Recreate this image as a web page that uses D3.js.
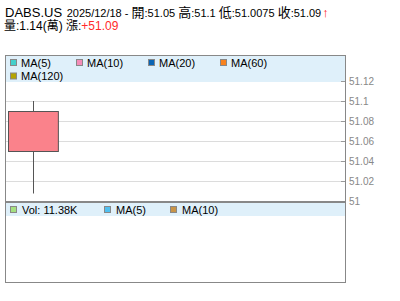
<!DOCTYPE html>
<html><head><meta charset="utf-8">
<script src="https://cdn.jsdelivr.net/npm/d3@7"></script>
<style>body{margin:0;background:#fff}svg{display:block}text{font-family:"Liberation Sans",Arial,"Noto Sans CJK TC",sans-serif}</style>
</head><body>
<script>
const symbol = "DABS.US";
const dates = ["2025/12/18"];
const opens = [51.05];
const highs = [51.1];
const lows = [51.0075];
const closes = [51.09];
const volumes = [11380];
const volumeWan = "1.14";
const change = "+51.09";
const priceTicks = [51, 51.02, 51.04, 51.06, 51.08, 51.1, 51.12];
const maLegend = ["MA(5)", "MA(10)", "MA(20)", "MA(60)", "MA(120)"];
const maColors = ["#44d0cc", "#f48cb8", "#0a64b4", "#f8821e", "#b4a400"];
const volLegend = ["Vol: 11.38K", "MA(5)", "MA(10)"];
const volColors = ["#a4e080", "#50c0f0", "#c89448"];
const slots = 6;

const W = 400, H = 301;
const L = 5, R = 345, T = 55, B = 282, mainBottom = 201;
const svg = d3.select("body").append("svg").attr("width", W).attr("height", H);

// Title
const t1 = svg.append("text").attr("x", 5).attr("y", 17).attr("font-size", 11).attr("fill", "#000");
t1.append("tspan").attr("font-size", 13).text(symbol + " ");
t1.append("tspan").attr("dx", 1).text(dates[0] + " - ");
const parts = [["開", opens[0]], ["高", highs[0]], ["低", lows[0]], ["收", closes[0]]];
parts.forEach((p, i) => {
  t1.append("tspan").attr("font-size", 13).text(p[0]);
  t1.append("tspan").text(":" + p[1] + (i < parts.length - 1 ? " " : ""));
});
t1.append("tspan").attr("dx", 1).attr("fill", "#ff1a1a").attr("font-weight", "bold").attr("font-size", 13).text("↑");
const t2 = svg.append("text").attr("x", 4).attr("y", 30).attr("font-size", 12).attr("fill", "#000");
t2.append("tspan").text("量:" + volumeWan + "(萬) 漲:");
t2.append("tspan").attr("fill", "#ff2a2a").text(change);

// scales
const y = d3.scaleLinear().domain([51, 51.12]).range([mainBottom, 81]);
const x = d3.scaleBand().domain(d3.range(slots)).range([L, R]).paddingInner(0.12).paddingOuter(0.06);

// gridlines
svg.append("g").selectAll("line").data(priceTicks.filter(d => d > 51 && d < 51.12)).join("line")
  .attr("x1", L).attr("x2", R).attr("y1", d => Math.round(y(d)) + 0.5).attr("y2", d => Math.round(y(d)) + 0.5)
  .attr("stroke", "#dcdcdc");

// legend band main
svg.append("rect").attr("x", L).attr("y", T).attr("width", R - L).attr("height", 82 - T).attr("fill", "#dff0fa");
const legPos = [[10, 0], [76, 0], [148, 0], [220, 0], [10, 1]];
const lg = svg.append("g").selectAll("g").data(maLegend).join("g")
  .attr("transform", (d, i) => `translate(${legPos[i][0]},${59 + legPos[i][1] * 13.5})`);
lg.append("rect").attr("x", 0.5).attr("y", 0.5).attr("width", 6).attr("height", 6)
  .attr("fill", (d, i) => maColors[i]).attr("stroke", "#888");
lg.append("text").attr("x", 11).attr("y", 7.5).attr("font-size", 11).attr("fill", "#000").text(d => d);

// axis
const axis = d3.axisRight(y).tickValues(priceTicks).tickSize(0).tickPadding(4).tickFormat(d => d3.format("")(+d.toFixed(2)));
const ag = svg.append("g").attr("transform", `translate(${R},0)`).call(axis);
ag.select(".domain").remove();
ag.selectAll("text").attr("font-size", 10).attr("fill", "#888").attr("font-family", "Liberation Sans, Arial, sans-serif");
svg.append("g").selectAll("line").data(priceTicks).join("line")
  .attr("x1", R - 4).attr("x2", R).attr("y1", d => Math.round(y(d)) + 0.5).attr("y2", d => Math.round(y(d)) + 0.5)
  .attr("stroke", "#999");

// candles
const cg = svg.append("g").selectAll("g").data(dates).join("g");
cg.append("line")
  .attr("x1", (d, i) => Math.round(x(i) + x.bandwidth() / 2) + 0.5)
  .attr("x2", (d, i) => Math.round(x(i) + x.bandwidth() / 2) + 0.5)
  .attr("y1", (d, i) => y(highs[i])).attr("y2", (d, i) => y(lows[i]))
  .attr("stroke", "#555");
cg.append("rect")
  .attr("x", (d, i) => Math.round(x(i)) + 0.5)
  .attr("y", (d, i) => Math.round(y(Math.max(opens[i], closes[i]))) + 0.5)
  .attr("width", x.bandwidth())
  .attr("height", (d, i) => Math.abs(y(opens[i]) - y(closes[i])))
  .attr("fill", (d, i) => closes[i] >= opens[i] ? "#fa828b" : "#5cc05c")
  .attr("stroke", "#555");

// volume panel legend
svg.append("rect").attr("x", L).attr("y", 203).attr("width", R - L).attr("height", 13).attr("fill", "#dff0fa");
const vPos = [10, 104, 170];
const vg = svg.append("g").selectAll("g").data(volLegend).join("g")
  .attr("transform", (d, i) => `translate(${vPos[i]},206)`);
vg.append("rect").attr("x", 0.5).attr("y", 0.5).attr("width", 6).attr("height", 6)
  .attr("fill", (d, i) => volColors[i]).attr("stroke", "#888");
vg.append("text").attr("x", 12).attr("y", 7.5).attr("font-size", 11).attr("fill", "#000").text(d => d);

// borders
svg.append("rect").attr("x", L + 0.5).attr("y", T + 0.5).attr("width", R - L).attr("height", B - T)
  .attr("fill", "none").attr("stroke", "#888");
svg.append("line").attr("x1", L).attr("x2", R).attr("y1", mainBottom + 1).attr("y2", mainBottom + 1)
  .attr("stroke", "#888").attr("stroke-width", 2);
</script>
</body></html>
